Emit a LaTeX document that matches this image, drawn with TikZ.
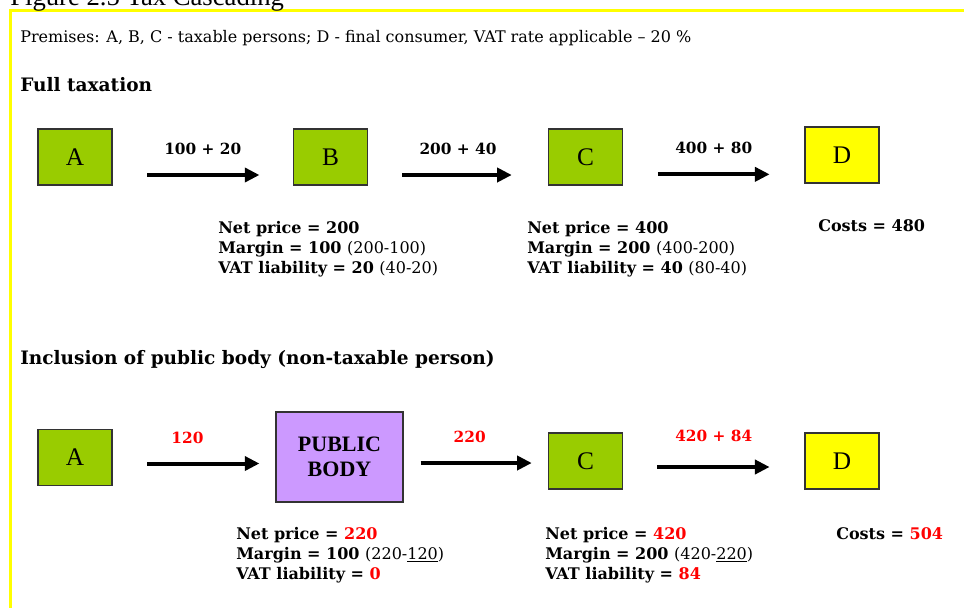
\documentclass[tikz,border=0pt]{standalone}
\usepackage{fontspec}
\setmainfont{DejaVu Serif}
\newfontfamily\boxfont{Liberation Serif}
\usetikzlibrary{arrows.meta}
\definecolor{frameyellow}{HTML}{FFFF00}
\definecolor{agentgreen}{HTML}{99CC00}
\definecolor{consumeryellow}{HTML}{FFFF00}
\definecolor{publiclilac}{HTML}{CC99FF}
\definecolor{boxline}{HTML}{333333}
\definecolor{taxred}{HTML}{FF0000}

\begin{document}
\begin{tikzpicture}[x=0.75pt,y=0.75pt,yscale=-1,xscale=1,
	party/.style={draw=boxline, line width=1.1pt, fill=agentgreen, minimum width=55.5pt, minimum height=42pt, inner sep=0pt, font=\boxfont\fontsize{19}{19}\selectfont},
	flow/.style={line width=3pt, -{Triangle[length=11pt,width=10.5pt]}},
	amount/.style={font=\bfseries\fontsize{11.5}{13}\selectfont, inner sep=0.75pt},
	calc/.style={anchor=base west, align=left, inner sep=0pt, font=\bfseries\fontsize{12}{15}\selectfont},
	heading/.style={anchor=base west, inner sep=0pt, font=\bfseries\fontsize{13.9}{16}\selectfont}]
			\useasboundingbox (0,0) rectangle (964,608);

			%Frame
			\draw [frameyellow, line width=2.25pt] (10.7,608) -- (10.7,10.5) -- (964,10.5) ;
			% Caption (cut by the top edge)
			\node [anchor=base west, inner sep=0pt, font=\boxfont\fontsize{20}{20}\selectfont] (caption) at (10,5) {Figure 2.5 Tax Cascading};
			% Text Node
			\node [anchor=base west, inner sep=0pt, font=\fontsize{12}{14}\selectfont] (premises) at (20,42.5) {Premises: A, B, C - taxable persons; D - final consumer, VAT rate applicable -- 20 \%};

			%Full taxation
			\node [heading] (full) at (20,91) {Full taxation};
			\node [party] (A1) at (75,157) {A};
			\node [party] (B1) at (330.5,157) {B};
			\node [party] (C1) at (585.5,157) {C};
			\node [party, fill=consumeryellow] (D1) at (842,155) {D};

			\draw [flow, shorten <=26pt, shorten >=25pt] ([yshift=13.5pt]A1.east) -- ([yshift=13.5pt]A1.east -| B1.west) node [amount, midway, yshift=19.5pt] (f1) {100 + 20};
			\draw [flow, shorten <=25.5pt, shorten >=27pt] ([yshift=13.5pt]B1.east) -- ([yshift=13.5pt]B1.east -| C1.west) node [amount, midway, yshift=19.5pt] (f2) {200 + 40};
			\draw [flow, shorten <=26pt, shorten >=26pt] ([yshift=13pt]C1.east) -- ([yshift=13pt]C1.east -| D1.west) node [amount, midway, yshift=19.5pt] (f3) {400 + 80};

			% Text Node
			\node [calc] (sum1) at (218,273) {Net price = 200\\Margin = 100 {\mdseries (200-100)}\\VAT liability = 20 {\mdseries (40-20)}};
			% Text Node
			\node [calc] (sum2) at (527,273) {Net price = 400\\Margin = 200 {\mdseries (400-200)}\\VAT liability = 40 {\mdseries (80-40)}};
			% Text Node
			\node [calc] (cost1) at (818,231) {Costs = 480};

			%Inclusion of public body
			\node [heading] (incl) at (20,364) {Inclusion of public body (non-taxable person)};
			\node [party] (A2) at (75,457.5) {A};
			\node [party, fill=publiclilac, minimum width=95pt, minimum height=67.5pt, align=center, font=\boxfont\bfseries\fontsize{16.5}{18.5}\selectfont] (P2) at (339.5,457) {PUBLIC\\BODY};
			\node [party] (C2) at (585.5,461) {C};
			\node [party, fill=consumeryellow] (D2) at (842,461) {D};

			\draw [flow, shorten <=26pt, shorten >=12pt] ([yshift=4.5pt]A2.east) -- ([yshift=4.5pt]A2.east -| P2.west) node [amount, taxred, midway, yshift=19.5pt, xshift=-5pt] (g1) {120};
			\draw [flow, shorten <=12.75pt, shorten >=12pt] ([yshift=4.5pt]P2.east) -- ([yshift=4.5pt]P2.east -| C2.west) node [amount, taxred, midway, yshift=19.5pt, xshift=-4.5pt] (g2) {220};
			\draw [flow, shorten <=25.5pt, shorten >=26pt] ([yshift=4.5pt]C2.east) -- ([yshift=4.5pt]C2.east -| D2.west) node [amount, taxred, midway, yshift=23pt] (g3) {420 + 84};

			% Text Node
			\node [calc] (sum3) at (236,579) {Net price = {\color{taxred}220}\\Margin = 100 {\mdseries (220-\underline{120})}\\VAT liability = {\color{taxred}0}};
			% Text Node
			\node [calc] (sum4) at (545,579) {Net price = {\color{taxred}420}\\Margin = 200 {\mdseries (420-\underline{220})}\\VAT liability = {\color{taxred}84}};
			% Text Node
			\node [calc] (cost2) at (836,539) {Costs = {\color{taxred}504}};
		\end{tikzpicture}
\end{document}
